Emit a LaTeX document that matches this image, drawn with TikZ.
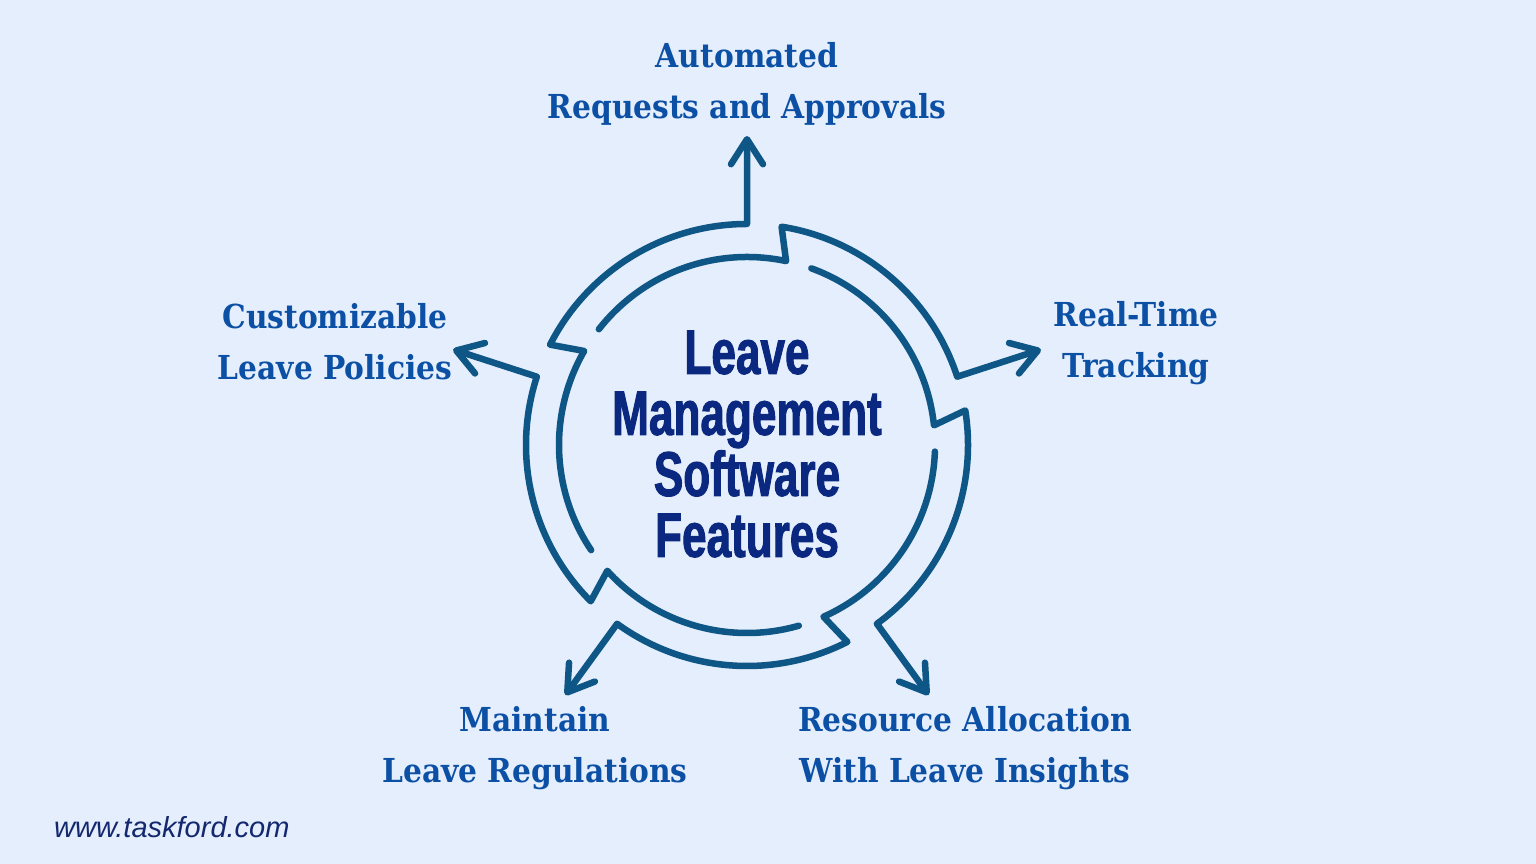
\documentclass[tikz,border=0pt]{standalone}
\usepackage{fontspec}
\usetikzlibrary{arrows.meta}
\setmainfont{DejaVu Serif}
\newfontfamily\labelfont{DejaVu Serif Condensed}
\newfontfamily\titlefont[FakeStretch=0.7,FakeBold=1.5]{Liberation Sans}
\newfontfamily\urlfont{Liberation Sans}
\definecolor{bg}{RGB}{229,238,252}
\definecolor{ring}{RGB}{14,86,134}
\definecolor{lab}{RGB}{12,80,165}
\definecolor{navy}{RGB}{10,40,128}
\definecolor{urlc}{RGB}{20,40,110}
\tikzset{
  ringline/.style={draw=ring, line width=6.5pt, line cap=round, line join=round},
  tipend/.style={-{Straight Barb[length=25pt,width=32pt,line width=6.5pt,round]}},
  featlabel/.style={text=lab, align=center, font=\labelfont\bfseries\fontsize{33}{51}\selectfont, inner sep=0pt},
  titletext/.style={text=navy, align=center, font=\titlefont\bfseries\fontsize{63}{61}\selectfont, inner sep=0pt},
}
\begin{document}
\begin{tikzpicture}[x=1pt,y=1pt]
\fill[bg] (0,0) rectangle (1536,864);
\useasboundingbox (0,0) rectangle (1536,864);
\coordinate (c) at (747,419);
\foreach \k in {0,...,4}{
  \pgfmathsetmacro{\f}{142-72*\k}
  \pgfmathsetmacro{\ni}{78-72*\k}
  \pgfmathsetmacro{\no}{81-72*\k}
  \pgfmathsetmacro{\q}{18-72*\k}
  \draw[ringline,tipend] ([shift={(\f:188)}]c) arc[start angle=\f, end angle=\ni, radius=188]
     -- ([shift={(\no:221)}]c) arc[start angle=\no, end angle=\q, radius=221]
     -- ([shift={(\q:309)}]c);
}
\node[titletext] (title) at (747,420) {Leave\\Management\\Software\\Features};
\node[featlabel] (l1) at (747,780) {Automated\\Requests and Approvals};
\node[featlabel] (l2) at (1136,521) {Real-Time\\Tracking};
\node[featlabel] (l3) at (965,116) {Resource Allocation\\With Leave Insights};
\node[featlabel] (l4) at (535,116) {Maintain\\Leave Regulations};
\node[featlabel] (l5) at (335,522) {Customizable\\Leave Policies};
\node[text=urlc, anchor=west, inner sep=0pt, font=\urlfont\itshape\fontsize{29}{32}\selectfont] (url) at (54,37) {www.taskford.com};
\end{tikzpicture}
\end{document}
